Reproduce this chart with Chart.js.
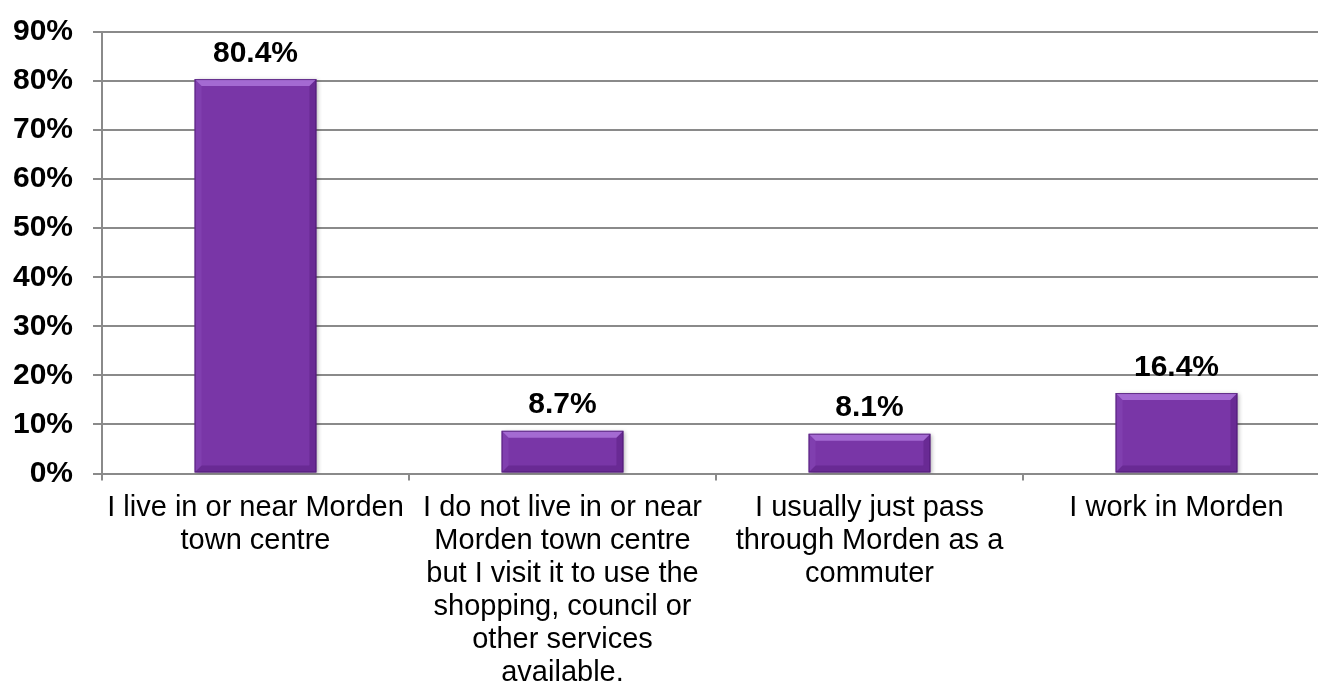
<!DOCTYPE html>
<html>
<head>
<meta charset="utf-8">
<script src="https://cdn.jsdelivr.net/npm/chart.js@4/dist/chart.umd.min.js"></script>
<style>
  html, body { margin: 0; padding: 0; background: #ffffff; overflow: hidden; }
  #wrap { width: 1318px; height: 687px; overflow: hidden; position: relative; }
  canvas { display: block; }
</style>
</head>
<body>
<div id="wrap"><canvas id="chart" width="1332" height="687"></canvas></div>
<script>
// Respondent groups (each label split into its display lines)
const categories = [
  ['I live in or near Morden', 'town centre'],
  ['I do not live in or near', 'Morden town centre', 'but I visit it to use the', 'shopping, council or', 'other services', 'available.'],
  ['I usually just pass', 'through Morden as a', 'commuter'],
  ['I work in Morden']
];
// Share of respondents, in percent
const shares = [80.4, 8.7, 8.1, 16.4];
// Value axis ticks, in percent
const yTickValues = [0, 10, 20, 30, 40, 50, 60, 70, 80, 90];

const FONT = '"Liberation Sans", Arial, Helvetica, sans-serif';
const GRID = '#8a8a8a';
const BAR = '#7936a7';

// Soft drop shadow behind the bars
const barShadow = {
  id: 'barShadow',
  beforeDatasetDraw(chart) {
    const ctx = chart.ctx;
    ctx.save();
    ctx.shadowColor = 'rgba(0,0,0,0.28)';
    ctx.shadowBlur = 4;
    ctx.shadowOffsetX = 2;
    ctx.shadowOffsetY = 1;
  },
  afterDatasetDraw(chart) {
    chart.ctx.restore();
  }
};

// Bevelled edges on each bar, drawn over the element the library placed
const barBevel = {
  id: 'barBevel',
  afterDatasetDraw(chart, args) {
    const ctx = chart.ctx;
    const meta = args.meta;
    meta.data.forEach(el => {
      const p = el.getProps(['x', 'y', 'base', 'width'], true);
      const l = p.x - p.width / 2, r = p.x + p.width / 2;
      const t = Math.min(p.y, p.base), b = Math.max(p.y, p.base);
      const bv = Math.min(7, (b - t) / 2);
      const poly = (pts, fill) => {
        ctx.beginPath();
        ctx.moveTo(pts[0][0], pts[0][1]);
        for (let i = 1; i < pts.length; i++) ctx.lineTo(pts[i][0], pts[i][1]);
        ctx.closePath();
        ctx.fillStyle = fill;
        ctx.fill();
      };
      ctx.save();
      // top
      poly([[l, t], [r, t], [r - bv, t + bv], [l + bv, t + bv]], 'rgba(200,150,245,0.55)');
      // left
      poly([[l, t], [l + bv, t + bv], [l + bv, b - bv], [l, b]], 'rgba(150,90,200,0.25)');
      // right
      poly([[r, t], [r, b], [r - bv, b - bv], [r - bv, t + bv]], 'rgba(50,0,80,0.22)');
      // bottom
      poly([[l, b], [l + bv, b - bv], [r - bv, b - bv], [r, b]], 'rgba(50,0,80,0.22)');
      ctx.strokeStyle = 'rgba(70,20,105,0.7)';
      ctx.lineWidth = 1;
      ctx.strokeRect(l + 0.5, t + 0.5, r - l - 1, b - t - 1);
      ctx.restore();
    });
  }
};

// Value labels above the bars
const valueLabels = {
  id: 'valueLabels',
  afterDatasetsDraw(chart) {
    const ctx = chart.ctx;
    const meta = chart.getDatasetMeta(0);
    ctx.save();
    ctx.font = 'bold 30px ' + FONT;
    ctx.fillStyle = '#000000';
    ctx.textAlign = 'center';
    ctx.textBaseline = 'alphabetic';
    meta.data.forEach((el, i) => {
      const v = chart.data.datasets[0].data[i];
      ctx.fillText(v.toFixed(1) + '%', el.x, el.y - 17.5);
    });
    ctx.restore();
  }
};

new Chart(document.getElementById('chart'), {
  type: 'bar',
  data: {
    labels: categories,
    datasets: [{
      data: shares,
      backgroundColor: BAR,
      borderWidth: 0,
      barPercentage: 0.397,
      categoryPercentage: 1
    }]
  },
  options: {
    responsive: false,
    animation: false,
    layout: { autoPadding: false, padding: { top: 32, right: 2, bottom: 0, left: 0 } },
    plugins: {
      legend: { display: false },
      tooltip: { enabled: false }
    },
    scales: {
      x: {
        offset: true,
        grid: {
          offset: true,
          drawOnChartArea: false,
          drawTicks: true,
          tickLength: 7,
          color: GRID,
          lineWidth: 2
        },
        border: { display: true, color: GRID, width: 2 },
        ticks: {
          color: '#000000',
          font: { family: FONT, size: 29, lineHeight: 1.14 },
          padding: 11,
          maxRotation: 0,
          minRotation: 0,
          autoSkip: false
        },
        afterFit(scale) {
          scale.height = 213.5;
          scale.paddingLeft = 0;
          scale.paddingRight = 0;
        }
      },
      y: {
        min: 0,
        max: 90,
        afterBuildTicks(scale) {
          scale.ticks = yTickValues.map(v => ({ value: v }));
        },
        grid: {
          color: GRID,
          lineWidth: 2,
          drawTicks: true,
          tickLength: 9
        },
        border: { display: true, color: GRID, width: 2 },
        ticks: {
          color: '#000000',
          font: { family: FONT, size: 30, weight: 'bold' },
          padding: 20,
          callback: v => v + '%'
        },
        afterFit(scale) {
          scale.width = 102;
          scale.paddingTop = 0;
          scale.paddingBottom = 0;
        }
      }
    }
  },
  plugins: [barShadow, barBevel, valueLabels]
});
</script>
</body>
</html>
